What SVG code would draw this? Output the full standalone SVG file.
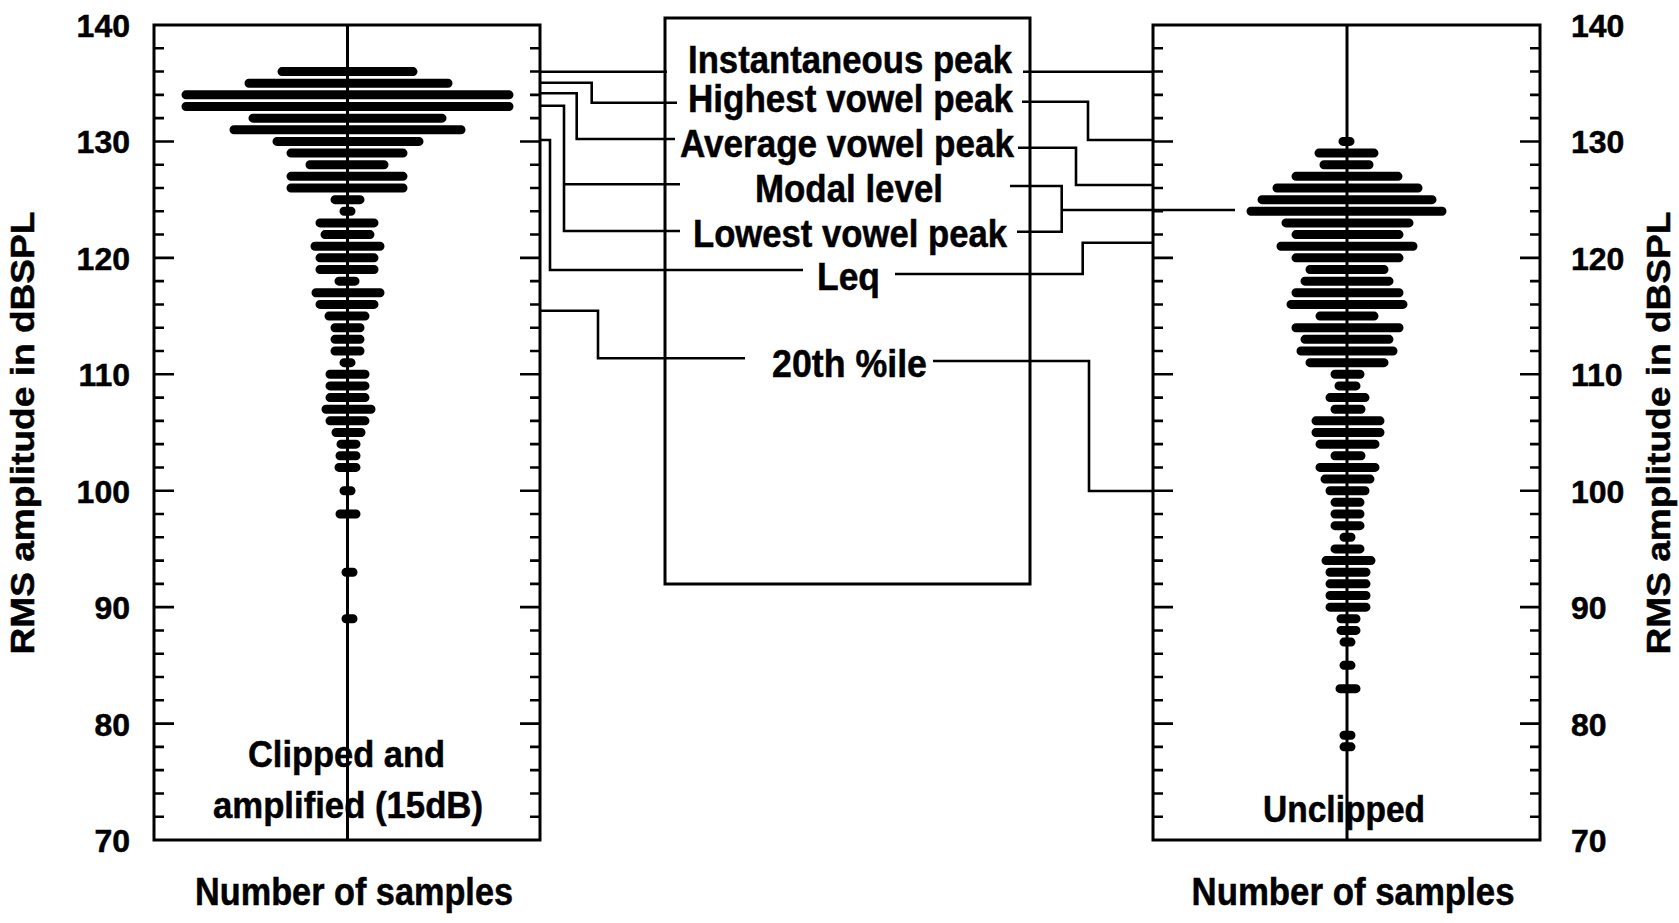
<svg xmlns="http://www.w3.org/2000/svg" xmlns:xlink="http://www.w3.org/1999/xlink" width="1679" height="923" viewBox="0 0 1679 923">
<style>
text{font-family:"Liberation Sans",Arial,Helvetica,sans-serif;font-weight:bold;fill:#000;stroke:#000;stroke-width:0.5}
.box{fill:none;stroke:#000;stroke-width:3}
.axis{stroke:#000;stroke-width:3;fill:none}
.tick{stroke:#000;stroke-width:2.6;fill:none}
.bars{stroke:#000;stroke-width:9;stroke-linecap:round;fill:none}
.conn{stroke:#000;stroke-width:2.6;fill:none}
.num{font-size:32px}
.lab{font-size:38px}
.ttl{font-size:33px}
</style>
<defs>
<path id="ticks" class="tick" d="M0,48.29h10M0,71.57h10M0,94.86h10M0,118.14h10M0,141.43h20M0,164.72h10M0,188h10M0,211.29h10M0,234.57h10M0,257.86h20M0,281.15h10M0,304.43h10M0,327.72h10M0,351h10M0,374.29h20M0,397.58h10M0,420.86h10M0,444.15h10M0,467.43h10M0,490.72h20M0,514h10M0,537.29h10M0,560.58h10M0,583.86h10M0,607.15h20M0,630.43h10M0,653.72h10M0,677h10M0,700.29h10M0,723.58h20M0,746.86h10M0,770.15h10M0,793.43h10M0,816.72h10"/>
</defs>
<rect width="1679" height="923" fill="#fff"/>

<g id="left-plot">
<rect class="box" x="154" y="25" width="386" height="815"/>
<use xlink:href="#ticks" x="154"/>
<use xlink:href="#ticks" transform="translate(540,0) scale(-1,1)"/>
<line class="axis" x1="347.5" y1="25" x2="347.5" y2="840"/>
<path class="bars" d="M282,71.57H413M249,83.21H448M186,94.86H509M186,106.5H509M253,118.14H442M234,129.79H461M277,141.43H419M291,153.07H403M310,164.72H384M291,176.36H403M291,188H403M335,199.64H360M344,211.29H351M320,222.93H374M325,234.57H370M315,246.21H380M320,257.86H374M320,269.5H374M339,281.15H355M316,292.79H380M320,304.43H374M329,316.07H365M335,327.72H360M335,339.36H360M335,351H360M344,362.64H351M330,374.29H365M330,385.93H365M330,397.58H365M326,409.22H371M330,420.86H365M336,432.5H361M341,444.15H356M340,455.79H356M339,467.43H356M344,490.72H351M340,514H356M346,572.22H353M346,618.79H353"/>
<text x="346.5" y="766.7" text-anchor="middle" textLength="197" lengthAdjust="spacingAndGlyphs" style="font-size:36px">Clipped and</text>
<text x="348" y="818.3" text-anchor="middle" textLength="270" lengthAdjust="spacingAndGlyphs" style="font-size:36px">amplified (15dB)</text>
<text class="lab" x="354" y="905" text-anchor="middle" textLength="318" lengthAdjust="spacingAndGlyphs">Number of samples</text>
</g>

<g id="left-axis">
<text class="num" x="130" y="37" text-anchor="end">140</text>
<text class="num" x="130" y="153.4" text-anchor="end">130</text>
<text class="num" x="130" y="269.9" text-anchor="end">120</text>
<text class="num" x="130" y="386.3" text-anchor="end">110</text>
<text class="num" x="130" y="502.7" text-anchor="end">100</text>
<text class="num" x="130" y="619.1" text-anchor="end">90</text>
<text class="num" x="130" y="735.6" text-anchor="end">80</text>
<text class="num" x="130" y="852" text-anchor="end">70</text>
<text class="ttl" transform="translate(34,433) rotate(-90)" text-anchor="middle" textLength="443" lengthAdjust="spacingAndGlyphs">RMS amplitude in dBSPL</text>
</g>

<g id="right-plot">
<rect class="box" x="1153" y="25" width="387" height="815"/>
<use xlink:href="#ticks" x="1153"/>
<use xlink:href="#ticks" transform="translate(1540,0) scale(-1,1)"/>
<line class="axis" x1="1347" y1="25" x2="1347" y2="840"/>
<path class="bars" d="M1343,141.43H1350M1319,153.07H1374M1324,164.72H1369M1296,176.36H1398M1277,188H1418M1262,199.64H1432M1251,211.29H1442M1286,222.93H1409M1296,234.57H1399M1281,246.21H1413M1296,257.86H1399M1310,269.5H1384M1305,281.15H1389M1296,292.79H1399M1291,304.43H1403M1320,316.07H1374M1296,327.72H1399M1305,339.36H1389M1301,351H1393M1310,362.64H1384M1335,374.29H1360M1339,385.93H1356M1330,397.58H1365M1335,409.22H1361M1316,420.86H1380M1316,432.5H1380M1320,444.15H1375M1335,455.79H1361M1320,467.43H1375M1325,479.07H1370M1330,490.72H1365M1335,502.36H1360M1335,514H1360M1335,525.65H1360M1344,537.29H1351M1335,548.93H1360M1326,560.58H1371M1330,572.22H1366M1330,583.86H1366M1330,595.5H1366M1330,607.15H1366M1341,618.79H1356M1341,630.43H1356M1344,642.08H1351M1344,665.36H1351M1340,688.65H1356M1344,735.22H1351M1344,746.86H1351"/>
<text x="1344" y="821.7" text-anchor="middle" textLength="162" lengthAdjust="spacingAndGlyphs" style="font-size:36px">Unclipped</text>
<text class="lab" x="1353" y="905" text-anchor="middle" textLength="323" lengthAdjust="spacingAndGlyphs">Number of samples</text>
</g>

<g id="right-axis">
<text class="num" x="1571" y="37">140</text>
<text class="num" x="1571" y="153.4">130</text>
<text class="num" x="1571" y="269.9">120</text>
<text class="num" x="1571" y="386.3">110</text>
<text class="num" x="1571" y="502.7">100</text>
<text class="num" x="1571" y="619.1">90</text>
<text class="num" x="1571" y="735.6">80</text>
<text class="num" x="1571" y="852">70</text>
<text class="ttl" transform="translate(1670,433) rotate(-90)" text-anchor="middle" textLength="443" lengthAdjust="spacingAndGlyphs">RMS amplitude in dBSPL</text>
</g>

<g id="legend-box">
<rect class="box" x="665" y="18" width="365" height="566"/>
<text class="lab" x="688" y="73.3" textLength="324" lengthAdjust="spacingAndGlyphs">Instantaneous peak</text>
<text class="lab" x="688" y="111.7" textLength="325" lengthAdjust="spacingAndGlyphs">Highest vowel peak</text>
<text class="lab" x="680" y="156.7" textLength="334" lengthAdjust="spacingAndGlyphs">Average vowel peak</text>
<text class="lab" x="755" y="201.7" textLength="188" lengthAdjust="spacingAndGlyphs">Modal level</text>
<text class="lab" x="693" y="246.7" textLength="314" lengthAdjust="spacingAndGlyphs">Lowest vowel peak</text>
<text class="lab" x="817" y="290" textLength="63" lengthAdjust="spacingAndGlyphs">Leq</text>
<text class="lab" x="772" y="376.7" textLength="155" lengthAdjust="spacingAndGlyphs">20th %ile</text>
</g>

<g id="connectors">
<path class="conn" d="M541,71.7H667"/>
<path class="conn" d="M541,82.7H591.7V102.7H677"/>
<path class="conn" d="M541,93.3H576.7V139H675"/>
<path class="conn" d="M564,184.3H680"/>
<path class="conn" d="M541,105.7H564V231H680"/>
<path class="conn" d="M541,140H550V270H803"/>
<path class="conn" d="M541,310.7H598V358.3H745"/>
<path class="conn" d="M1023,71.7H1153"/>
<path class="conn" d="M1022,101.7H1088V140H1153"/>
<path class="conn" d="M1018,147.7H1076V185H1153"/>
<path class="conn" d="M1010,186H1061.7V231.7H1017M1061.7,210H1235"/>
<path class="conn" d="M895,274H1082.7V242.7H1153"/>
<path class="conn" d="M933,361H1089V491H1153"/>
</g>
</svg>
